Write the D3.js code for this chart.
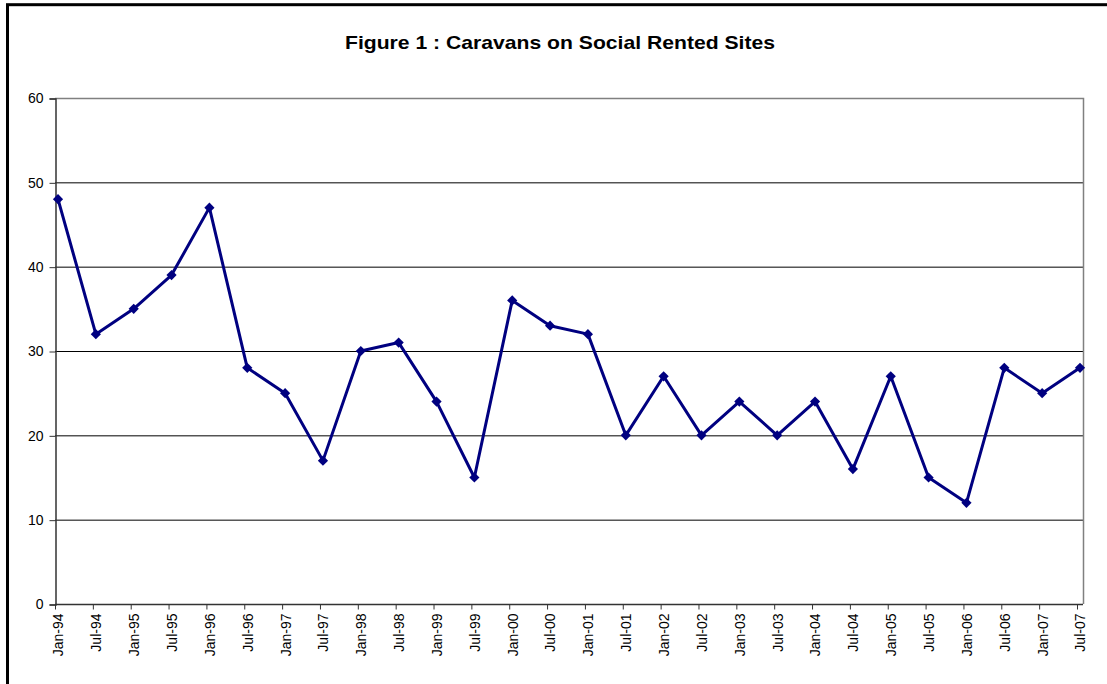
<!DOCTYPE html>
<html>
<head>
<meta charset="utf-8">
<script src="https://cdn.jsdelivr.net/npm/d3@7"></script>
<style>
    body { margin: 0; background: #fff; }
    svg { display: block; }
</style>
</head>
<body>
<div id="chart"></div>
<script>
// Data
const periods = [
    "Jan-94", "Jul-94", "Jan-95", "Jul-95", "Jan-96", "Jul-96", "Jan-97", "Jul-97",
    "Jan-98", "Jul-98", "Jan-99", "Jul-99", "Jan-00", "Jul-00", "Jan-01", "Jul-01",
    "Jan-02", "Jul-02", "Jan-03", "Jul-03", "Jan-04", "Jul-04", "Jan-05", "Jul-05",
    "Jan-06", "Jul-06", "Jan-07", "Jul-07"
];
const caravans = [
    48, 32, 35, 39, 47, 28, 25, 17,
    30, 31, 24, 15, 36, 33, 32, 20,
    27, 20, 24, 20, 24, 16, 27, 15,
    12, 28, 25, 28
];
const yTicks = [0, 10, 20, 30, 40, 50, 60];

const width = 1107;
const height = 684;
const plot = { left: 55, right: 1083, top: 98, bottom: 604 };
const font = "Liberation Sans, Arial, sans-serif";

const svg = d3.select("#chart").append("svg")
    .attr("width", width)
    .attr("height", height);

// Outer frame (only top and left edges fall inside the picture)
svg.append("rect")
    .attr("x", 7.5).attr("y", 4.7)
    .attr("width", 1200).attr("height", 800)
    .attr("fill", "none")
    .attr("stroke", "#000")
    .attr("stroke-width", 3);

// Title
svg.append("text")
    .attr("x", 560).attr("y", 49)
    .attr("text-anchor", "middle")
    .attr("textLength", 430)
    .attr("lengthAdjust", "spacingAndGlyphs")
    .style("font-family", font)
    .style("font-size", "19px")
    .style("font-weight", "bold")
    .text("Figure 1 : Caravans on Social Rented Sites");

const xScale = d3.scalePoint()
    .domain(periods)
    .range([plot.left + 3, 1080]);

const yScale = d3.scaleLinear()
    .domain([0, 60])
    .range([plot.bottom, plot.top]);

// Gridlines
svg.append("g")
    .selectAll("line")
    .data(yTicks.filter(t => t > 0 && t < 60))
    .enter()
    .append("line")
    .attr("x1", plot.left).attr("x2", plot.right)
    .attr("y1", d => yScale(d) + 0.5).attr("y2", d => yScale(d) + 0.5)
    .attr("stroke", "#000")
    .attr("stroke-width", 1);

// Plot area border (top and right in grey)
svg.append("path")
    .attr("d", `M${plot.left},${plot.top + 0.5}H${plot.right + 0.5}V${plot.bottom}`)
    .attr("fill", "none")
    .attr("stroke", "#808080")
    .attr("stroke-width", 1.5);

// Y axis
const yAxis = d3.axisLeft(yScale)
    .tickValues(yTicks)
    .tickSize(6)
    .tickPadding(6);
const gy = svg.append("g")
    .attr("transform", `translate(${plot.left + 0.5}, 0.5)`)
    .call(yAxis);
gy.select(".domain").attr("stroke", "#333").attr("stroke-width", 1.5);
gy.selectAll(".tick line").attr("stroke", "#333");
gy.selectAll(".tick text")
    .style("font-family", font)
    .style("font-size", "14px")
    .attr("fill", "#000");

// X axis
const xAxis = d3.axisBottom(xScale)
    .tickSize(5)
    .tickSizeOuter(0);
const gx = svg.append("g")
    .attr("transform", `translate(0, ${plot.bottom + 0.5})`)
    .call(xAxis);
gx.select(".domain")
    .attr("d", `M${plot.left},0H${plot.right}`)
    .attr("stroke", "#333").attr("stroke-width", 1.5);
gx.selectAll(".tick line")
    .attr("x1", -3).attr("x2", -3)
    .attr("stroke", "#333");
gx.selectAll(".tick text")
    .style("font-family", font)
    .style("font-size", "14px")
    .attr("fill", "#000")
    .attr("text-anchor", "end")
    .attr("transform", "rotate(-90)")
    .attr("x", -9)
    .attr("y", 0)
    .attr("dy", "0.35em");

// Line
const line = d3.line()
    .x((d, i) => xScale(periods[i]))
    .y(d => yScale(d));

svg.append("path")
    .datum(caravans)
    .attr("fill", "none")
    .attr("stroke", "#000080")
    .attr("stroke-width", 3)
    .attr("stroke-linejoin", "round")
    .attr("d", line);

// Diamond markers
const diamond = d3.symbol().type(d3.symbolSquare).size(52);
svg.append("g")
    .selectAll("path")
    .data(caravans)
    .enter()
    .append("path")
    .attr("d", diamond)
    .attr("transform", (d, i) => `translate(${xScale(periods[i])}, ${yScale(d)}) rotate(45)`)
    .attr("fill", "#000080");
</script>
</body>
</html>
